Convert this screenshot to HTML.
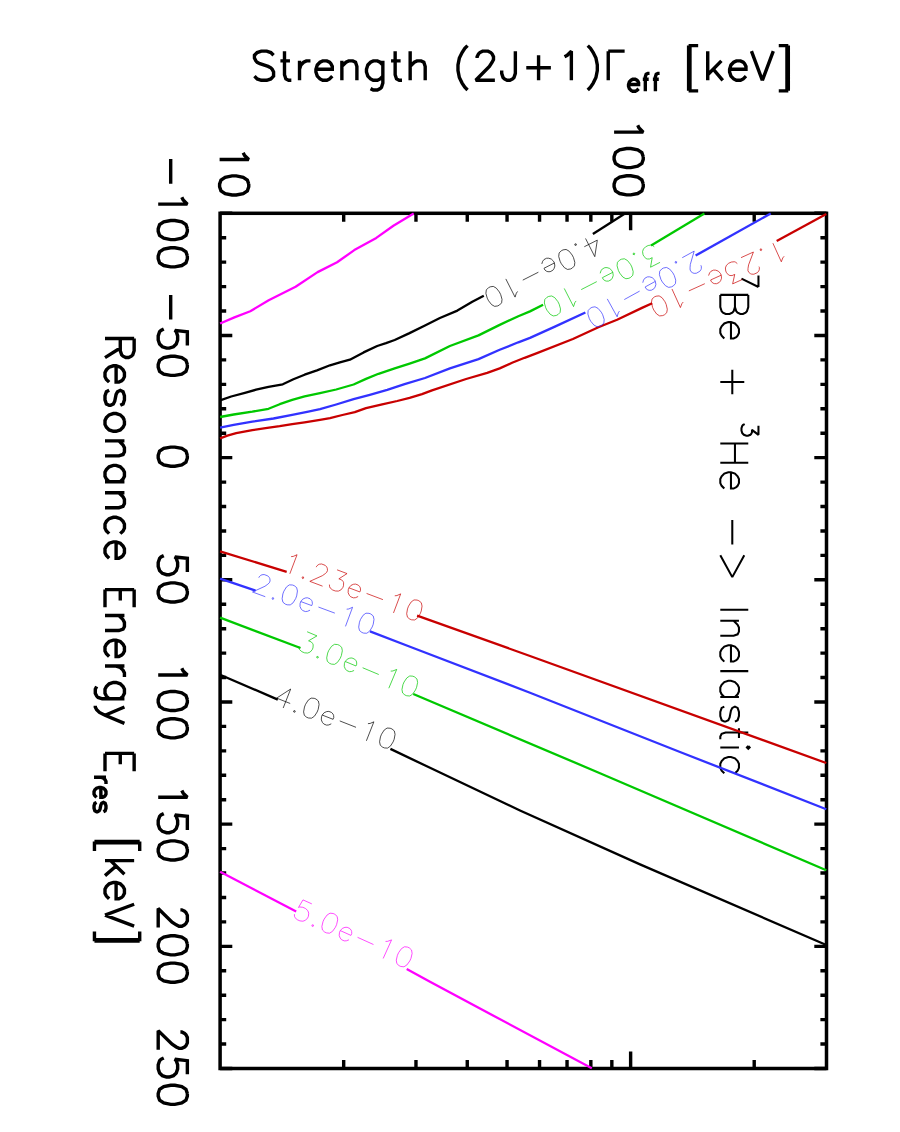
<!DOCTYPE html>
<html><head><meta charset="utf-8"><title>7Be + 3He inelastic contour plot</title>
<style>html,body{margin:0;padding:0;background:#fff;font-family:"Liberation Sans",sans-serif;}svg{display:block}</style>
</head><body>
<svg width="900" height="1132" viewBox="0 0 900 1132">
<rect width="900" height="1132" fill="#fff"/>
<path d="M220.1 213.3 h12.2 M826.5 213.3 h-12.2 M220.1 237.73 h6.1 M826.5 237.73 h-6.1 M220.1 262.17 h6.1 M826.5 262.17 h-6.1 M220.1 286.6 h6.1 M826.5 286.6 h-6.1 M220.1 311.04 h6.1 M826.5 311.04 h-6.1 M220.1 335.47 h12.2 M826.5 335.47 h-12.2 M220.1 359.91 h6.1 M826.5 359.91 h-6.1 M220.1 384.34 h6.1 M826.5 384.34 h-6.1 M220.1 408.77 h6.1 M826.5 408.77 h-6.1 M220.1 433.21 h6.1 M826.5 433.21 h-6.1 M220.1 457.64 h12.2 M826.5 457.64 h-12.2 M220.1 482.08 h6.1 M826.5 482.08 h-6.1 M220.1 506.51 h6.1 M826.5 506.51 h-6.1 M220.1 530.95 h6.1 M826.5 530.95 h-6.1 M220.1 555.38 h6.1 M826.5 555.38 h-6.1 M220.1 579.81 h12.2 M826.5 579.81 h-12.2 M220.1 604.25 h6.1 M826.5 604.25 h-6.1 M220.1 628.68 h6.1 M826.5 628.68 h-6.1 M220.1 653.12 h6.1 M826.5 653.12 h-6.1 M220.1 677.55 h6.1 M826.5 677.55 h-6.1 M220.1 701.99 h12.2 M826.5 701.99 h-12.2 M220.1 726.42 h6.1 M826.5 726.42 h-6.1 M220.1 750.85 h6.1 M826.5 750.85 h-6.1 M220.1 775.29 h6.1 M826.5 775.29 h-6.1 M220.1 799.72 h6.1 M826.5 799.72 h-6.1 M220.1 824.16 h12.2 M826.5 824.16 h-12.2 M220.1 848.59 h6.1 M826.5 848.59 h-6.1 M220.1 873.03 h6.1 M826.5 873.03 h-6.1 M220.1 897.46 h6.1 M826.5 897.46 h-6.1 M220.1 921.89 h6.1 M826.5 921.89 h-6.1 M220.1 946.33 h12.2 M826.5 946.33 h-12.2 M220.1 970.76 h6.1 M826.5 970.76 h-6.1 M220.1 995.2 h6.1 M826.5 995.2 h-6.1 M220.1 1019.63 h6.1 M826.5 1019.63 h-6.1 M220.1 1044.07 h6.1 M826.5 1044.07 h-6.1 M220.1 1068.5 h12.2 M826.5 1068.5 h-12.2 M343.68 213.3 v8.5 M343.68 1068.5 v-8.5 M415.97 213.3 v8.5 M415.97 1068.5 v-8.5 M467.26 213.3 v8.5 M467.26 1068.5 v-8.5 M507.05 213.3 v8.5 M507.05 1068.5 v-8.5 M539.55 213.3 v8.5 M539.55 1068.5 v-8.5 M567.04 213.3 v8.5 M567.04 1068.5 v-8.5 M590.84 213.3 v8.5 M590.84 1068.5 v-8.5 M611.84 213.3 v8.5 M611.84 1068.5 v-8.5 M630.63 213.3 v17 M630.63 1068.5 v-17 M754.21 213.3 v8.5 M754.21 1068.5 v-8.5" stroke="#000" stroke-width="3.4" fill="none"/>
<rect x="220.1" y="213.3" width="606.4" height="855.2" fill="none" stroke="#000" stroke-width="3.5"/>
<path d="M4 -9 L22 -9 M32 -17 L34 -18 L37 -21 L37 0 M55 -21 L52 -20 L50 -17 L49 -12 L49 -9 L50 -4 L52 -1 L55 0 L57 0 L60 -1 L62 -4 L63 -9 L63 -12 L62 -17 L60 -20 L57 -21 L55 -21 M75 -21 L72 -20 L70 -17 L69 -12 L69 -9 L70 -4 L72 -1 L75 0 L77 0 L80 -1 L82 -4 L83 -9 L83 -12 L82 -17 L80 -20 L77 -21 L75 -21" transform="translate(158.2 212.3) rotate(90) scale(1.3650 1.3880) translate(-43 0)" fill="none" stroke="#000" stroke-width="3.4" vector-effect="non-scaling-stroke" stroke-linecap="butt" stroke-linejoin="miter" stroke-miterlimit="2"/>
<path d="M4 -9 L22 -9 M41 -21 L31 -21 L30 -12 L31 -13 L34 -14 L37 -14 L40 -13 L42 -11 L43 -8 L43 -6 L42 -3 L40 -1 L37 0 L34 0 L31 -1 L30 -2 L29 -4 M55 -21 L52 -20 L50 -17 L49 -12 L49 -9 L50 -4 L52 -1 L55 0 L57 0 L60 -1 L62 -4 L63 -9 L63 -12 L62 -17 L60 -20 L57 -21 L55 -21" transform="translate(158.2 334.47) rotate(90) scale(1.3650 1.3880) translate(-33 0)" fill="none" stroke="#000" stroke-width="3.4" vector-effect="non-scaling-stroke" stroke-linecap="butt" stroke-linejoin="miter" stroke-miterlimit="2"/>
<path d="M9 -21 L6 -20 L4 -17 L3 -12 L3 -9 L4 -4 L6 -1 L9 0 L11 0 L14 -1 L16 -4 L17 -9 L17 -12 L16 -17 L14 -20 L11 -21 L9 -21" transform="translate(158.2 456.64) rotate(90) scale(1.3650 1.3880) translate(-10 0)" fill="none" stroke="#000" stroke-width="3.4" vector-effect="non-scaling-stroke" stroke-linecap="butt" stroke-linejoin="miter" stroke-miterlimit="2"/>
<path d="M15 -21 L5 -21 L4 -12 L5 -13 L8 -14 L11 -14 L14 -13 L16 -11 L17 -8 L17 -6 L16 -3 L14 -1 L11 0 L8 0 L5 -1 L4 -2 L3 -4 M29 -21 L26 -20 L24 -17 L23 -12 L23 -9 L24 -4 L26 -1 L29 0 L31 0 L34 -1 L36 -4 L37 -9 L37 -12 L36 -17 L34 -20 L31 -21 L29 -21" transform="translate(158.2 578.81) rotate(90) scale(1.3650 1.3880) translate(-20 0)" fill="none" stroke="#000" stroke-width="3.4" vector-effect="non-scaling-stroke" stroke-linecap="butt" stroke-linejoin="miter" stroke-miterlimit="2"/>
<path d="M6 -17 L8 -18 L11 -21 L11 0 M29 -21 L26 -20 L24 -17 L23 -12 L23 -9 L24 -4 L26 -1 L29 0 L31 0 L34 -1 L36 -4 L37 -9 L37 -12 L36 -17 L34 -20 L31 -21 L29 -21 M49 -21 L46 -20 L44 -17 L43 -12 L43 -9 L44 -4 L46 -1 L49 0 L51 0 L54 -1 L56 -4 L57 -9 L57 -12 L56 -17 L54 -20 L51 -21 L49 -21" transform="translate(158.2 700.99) rotate(90) scale(1.3650 1.3880) translate(-30 0)" fill="none" stroke="#000" stroke-width="3.4" vector-effect="non-scaling-stroke" stroke-linecap="butt" stroke-linejoin="miter" stroke-miterlimit="2"/>
<path d="M6 -17 L8 -18 L11 -21 L11 0 M35 -21 L25 -21 L24 -12 L25 -13 L28 -14 L31 -14 L34 -13 L36 -11 L37 -8 L37 -6 L36 -3 L34 -1 L31 0 L28 0 L25 -1 L24 -2 L23 -4 M49 -21 L46 -20 L44 -17 L43 -12 L43 -9 L44 -4 L46 -1 L49 0 L51 0 L54 -1 L56 -4 L57 -9 L57 -12 L56 -17 L54 -20 L51 -21 L49 -21" transform="translate(158.2 823.16) rotate(90) scale(1.3650 1.3880) translate(-30 0)" fill="none" stroke="#000" stroke-width="3.4" vector-effect="non-scaling-stroke" stroke-linecap="butt" stroke-linejoin="miter" stroke-miterlimit="2"/>
<path d="M4 -16 L4 -17 L5 -19 L6 -20 L8 -21 L12 -21 L14 -20 L15 -19 L16 -17 L16 -15 L15 -13 L13 -10 L3 0 L17 0 M29 -21 L26 -20 L24 -17 L23 -12 L23 -9 L24 -4 L26 -1 L29 0 L31 0 L34 -1 L36 -4 L37 -9 L37 -12 L36 -17 L34 -20 L31 -21 L29 -21 M49 -21 L46 -20 L44 -17 L43 -12 L43 -9 L44 -4 L46 -1 L49 0 L51 0 L54 -1 L56 -4 L57 -9 L57 -12 L56 -17 L54 -20 L51 -21 L49 -21" transform="translate(158.2 945.33) rotate(90) scale(1.3650 1.3880) translate(-30 0)" fill="none" stroke="#000" stroke-width="3.4" vector-effect="non-scaling-stroke" stroke-linecap="butt" stroke-linejoin="miter" stroke-miterlimit="2"/>
<path d="M4 -16 L4 -17 L5 -19 L6 -20 L8 -21 L12 -21 L14 -20 L15 -19 L16 -17 L16 -15 L15 -13 L13 -10 L3 0 L17 0 M35 -21 L25 -21 L24 -12 L25 -13 L28 -14 L31 -14 L34 -13 L36 -11 L37 -8 L37 -6 L36 -3 L34 -1 L31 0 L28 0 L25 -1 L24 -2 L23 -4 M49 -21 L46 -20 L44 -17 L43 -12 L43 -9 L44 -4 L46 -1 L49 0 L51 0 L54 -1 L56 -4 L57 -9 L57 -12 L56 -17 L54 -20 L51 -21 L49 -21" transform="translate(158.2 1067.5) rotate(90) scale(1.3650 1.3880) translate(-30 0)" fill="none" stroke="#000" stroke-width="3.4" vector-effect="non-scaling-stroke" stroke-linecap="butt" stroke-linejoin="miter" stroke-miterlimit="2"/>
<path d="M6 -17 L8 -18 L11 -21 L11 0 M29 -21 L26 -20 L24 -17 L23 -12 L23 -9 L24 -4 L26 -1 L29 0 L31 0 L34 -1 L36 -4 L37 -9 L37 -12 L36 -17 L34 -20 L31 -21 L29 -21" transform="translate(219.6 199.1) rotate(90) scale(1.3650 1.3880) translate(-40 0)" fill="none" stroke="#000" stroke-width="3.4" vector-effect="non-scaling-stroke" stroke-linecap="butt" stroke-linejoin="miter" stroke-miterlimit="2"/>
<path d="M6 -17 L8 -18 L11 -21 L11 0 M29 -21 L26 -20 L24 -17 L23 -12 L23 -9 L24 -4 L26 -1 L29 0 L31 0 L34 -1 L36 -4 L37 -9 L37 -12 L36 -17 L34 -20 L31 -21 L29 -21 M49 -21 L46 -20 L44 -17 L43 -12 L43 -9 L44 -4 L46 -1 L49 0 L51 0 L54 -1 L56 -4 L57 -9 L57 -12 L56 -17 L54 -20 L51 -21 L49 -21" transform="translate(614.1 199) rotate(90) scale(1.3650 1.3880) translate(-60 0)" fill="none" stroke="#000" stroke-width="3.4" vector-effect="non-scaling-stroke" stroke-linecap="butt" stroke-linejoin="miter" stroke-miterlimit="2"/>
<path d="M17 -18 L15 -20 L12 -21 L8 -21 L5 -20 L3 -18 L3 -16 L4 -14 L5 -13 L7 -12 L13 -10 L15 -9 L16 -8 L17 -6 L17 -3 L15 -1 L12 0 L8 0 L5 -1 L3 -3 M25 -21 L25 -4 L26 -1 L28 0 L30 0 M22 -14 L29 -14 M36 -14 L36 0 M36 -8 L37 -11 L39 -13 L41 -14 L44 -14 M48 -8 L60 -8 L60 -10 L59 -12 L58 -13 L56 -14 L53 -14 L51 -13 L49 -11 L48 -8 L48 -6 L49 -3 L51 -1 L53 0 L56 0 L58 -1 L60 -3 M67 -14 L67 0 M67 -10 L70 -13 L72 -14 L75 -14 L77 -13 L78 -10 L78 0 M97 -14 L97 2 L96 5 L95 6 L93 7 L90 7 L88 6 M97 -11 L95 -13 L93 -14 L90 -14 L88 -13 L86 -11 L85 -8 L85 -6 L86 -3 L88 -1 L90 0 L93 0 L95 -1 L97 -3 M106 -21 L106 -4 L107 -1 L109 0 L111 0 M103 -14 L110 -14 M117 -21 L117 0 M117 -10 L120 -13 L122 -14 L125 -14 L127 -13 L128 -10 L128 0 M159 -25 L157 -23 L155 -20 L153 -16 L152 -11 L152 -7 L153 -2 L155 2 L157 5 L159 7 M166 -16 L166 -17 L167 -19 L168 -20 L170 -21 L174 -21 L176 -20 L177 -19 L178 -17 L178 -15 L177 -13 L175 -10 L165 0 L179 0 M194 -21 L194 -5 L193 -2 L192 -1 L190 0 L188 0 L186 -1 L185 -2 L184 -5 L184 -7 M211 -18 L211 0 M202 -9 L220 -9 M230 -17 L232 -18 L235 -21 L235 0 M247 -25 L249 -23 L251 -20 L253 -16 L254 -11 L254 -7 L253 -2 L251 2 L249 5 L247 7 M262 -21 L262 0 M262 -21 L274 -21 M276.85 2.98 L284.23 2.98 L284.23 1.75 L283.61 0.52 L283 -0.09 L281.76 -0.71 L279.92 -0.71 L278.69 -0.09 L277.46 1.14 L276.85 2.98 L276.85 4.21 L277.46 6.06 L278.69 7.29 L279.92 7.9 L281.76 7.9 L283 7.29 L284.23 6.06 M292.22 -5.01 L290.99 -5.01 L289.76 -4.4 L289.14 -2.55 L289.14 7.9 M287.3 -0.71 L291.61 -0.71 M299.6 -5.01 L298.37 -5.01 L297.14 -4.4 L296.52 -2.55 L296.52 7.9 M294.68 -0.71 L298.99 -0.71 M320.83 -25 L320.83 7.6 M321.83 -25 L321.83 7.6 M320.83 -25 L327.83 -25 M320.83 7.6 L327.83 7.6 M334.83 -21 L334.83 0 M344.83 -14 L334.83 -4 M338.83 -8 L345.83 0 M350.83 -8 L362.83 -8 L362.83 -10 L361.83 -12 L360.83 -13 L358.83 -14 L355.83 -14 L353.83 -13 L351.83 -11 L350.83 -8 L350.83 -6 L351.83 -3 L353.83 -1 L355.83 0 L358.83 0 L360.83 -1 L362.83 -3 M366.83 -21 L374.83 0 M382.83 -21 L374.83 0 M392.83 -25 L392.83 7.6 M393.83 -25 L393.83 7.6 M386.83 -25 L393.83 -25 M386.83 7.6 L393.83 7.6" transform="translate(250.35 80.3) rotate(0) scale(1.3660 1.3880) translate(0 0)" fill="none" stroke="#000" stroke-width="3.4" vector-effect="non-scaling-stroke" stroke-linecap="butt" stroke-linejoin="miter" stroke-miterlimit="2"/>
<path d="M4 -21 L4 0 M4 -21 L13 -21 L16 -20 L17 -19 L18 -17 L18 -15 L17 -13 L16 -12 L13 -11 L4 -11 M11 -11 L18 0 M24 -8 L36 -8 L36 -10 L35 -12 L34 -13 L32 -14 L29 -14 L27 -13 L25 -11 L24 -8 L24 -6 L25 -3 L27 -1 L29 0 L32 0 L34 -1 L36 -3 M53 -11 L52 -13 L49 -14 L46 -14 L43 -13 L42 -11 L43 -9 L45 -8 L50 -7 L52 -6 L53 -4 L53 -3 L52 -1 L49 0 L46 0 L43 -1 L42 -3 M64 -14 L62 -13 L60 -11 L59 -8 L59 -6 L60 -3 L62 -1 L64 0 L67 0 L69 -1 L71 -3 L72 -6 L72 -8 L71 -11 L69 -13 L67 -14 L64 -14 M79 -14 L79 0 M79 -10 L82 -13 L84 -14 L87 -14 L89 -13 L90 -10 L90 0 M109 -14 L109 0 M109 -11 L107 -13 L105 -14 L102 -14 L100 -13 L98 -11 L97 -8 L97 -6 L98 -3 L100 -1 L102 0 L105 0 L107 -1 L109 -3 M117 -14 L117 0 M117 -10 L120 -13 L122 -14 L125 -14 L127 -13 L128 -10 L128 0 M147 -11 L145 -13 L143 -14 L140 -14 L138 -13 L136 -11 L135 -8 L135 -6 L136 -3 L138 -1 L140 0 L143 0 L145 -1 L147 -3 M153 -8 L165 -8 L165 -10 L164 -12 L163 -13 L161 -14 L158 -14 L156 -13 L154 -11 L153 -8 L153 -6 L154 -3 L156 -1 L158 0 L161 0 L163 -1 L165 -3 M188 -21 L188 0 M188 -21 L201 -21 M188 -11 L196 -11 M188 0 L201 0 M207 -14 L207 0 M207 -10 L210 -13 L212 -14 L215 -14 L217 -13 L218 -10 L218 0 M225 -8 L237 -8 L237 -10 L236 -12 L235 -13 L233 -14 L230 -14 L228 -13 L226 -11 L225 -8 L225 -6 L226 -3 L228 -1 L230 0 L233 0 L235 -1 L237 -3 M244 -14 L244 0 M244 -8 L245 -11 L247 -13 L249 -14 L252 -14 M268 -14 L268 2 L267 5 L266 6 L264 7 L261 7 L259 6 M268 -11 L266 -13 L264 -14 L261 -14 L259 -13 L257 -11 L256 -8 L256 -6 L257 -3 L259 -1 L261 0 L264 0 L266 -1 L268 -3 M274 -14 L280 0 M286 -14 L280 0 L278 4 L276 6 L274 7 L273 7 M308 -21 L308 0 M308 -21 L321 -21 M308 -11 L316 -11 M308 0 L321 0 M325.46 -0.71 L325.46 7.9 M325.46 2.98 L326.07 1.14 L327.31 -0.09 L328.54 -0.71 L330.38 -0.71 M332.84 2.98 L340.22 2.98 L340.22 1.75 L339.61 0.52 L338.99 -0.09 L337.76 -0.71 L335.92 -0.71 L334.69 -0.09 L333.45 1.14 L332.84 2.98 L332.84 4.21 L333.45 6.06 L334.69 7.29 L335.92 7.9 L337.76 7.9 L338.99 7.29 L340.22 6.06 M350.68 1.14 L350.06 -0.09 L348.21 -0.71 L346.37 -0.71 L344.52 -0.09 L343.91 1.14 L344.52 2.37 L345.75 2.98 L348.83 3.6 L350.06 4.21 L350.68 5.44 L350.68 6.06 L350.06 7.29 L348.21 7.9 L346.37 7.9 L344.52 7.29 L343.91 6.06 M372.52 -25 L372.52 7.6 M373.52 -25 L373.52 7.6 M372.52 -25 L379.52 -25 M372.52 7.6 L379.52 7.6 M386.52 -21 L386.52 0 M396.52 -14 L386.52 -4 M390.52 -8 L397.52 0 M402.52 -8 L414.52 -8 L414.52 -10 L413.52 -12 L412.52 -13 L410.52 -14 L407.52 -14 L405.52 -13 L403.52 -11 L402.52 -8 L402.52 -6 L403.52 -3 L405.52 -1 L407.52 0 L410.52 0 L412.52 -1 L414.52 -3 M418.52 -21 L426.52 0 M434.52 -21 L426.52 0 M444.52 -25 L444.52 7.6 M445.52 -25 L445.52 7.6 M438.52 -25 L445.52 -25 M438.52 7.6 L445.52 7.6" transform="translate(105 333) rotate(90) scale(1.3650 1.3880) translate(0 0)" fill="none" stroke="#000" stroke-width="3.4" vector-effect="non-scaling-stroke" stroke-linecap="butt" stroke-linejoin="miter" stroke-miterlimit="2"/>
<path d="M10.32 -28.65 L4.25 -15.9 M1.82 -28.65 L10.32 -28.65 M16.14 -21 L16.14 0 M16.14 -21 L25.14 -21 L28.14 -20 L29.14 -19 L30.14 -17 L30.14 -15 L29.14 -13 L28.14 -12 L25.14 -11 M16.14 -11 L25.14 -11 L28.14 -10 L29.14 -9 L30.14 -7 L30.14 -4 L29.14 -2 L28.14 -1 L25.14 0 L16.14 0 M36.14 -8 L48.14 -8 L48.14 -10 L47.14 -12 L46.14 -13 L44.14 -14 L41.14 -14 L39.14 -13 L37.14 -11 L36.14 -8 L36.14 -6 L37.14 -3 L39.14 -1 L41.14 0 L44.14 0 L46.14 -1 L48.14 -3 M80.14 -18 L80.14 0 M71.14 -9 L89.14 -9 M112.17 -28.65 L118.85 -28.65 L115.21 -23.79 L117.03 -23.79 L118.25 -23.18 L118.85 -22.58 L119.46 -20.76 L119.46 -19.54 L118.85 -17.72 L117.64 -16.51 L115.82 -15.9 L114 -15.9 L112.17 -16.51 L111.57 -17.11 L110.96 -18.33 M125.28 -21 L125.28 0 M139.28 -21 L139.28 0 M125.28 -11 L139.28 -11 M146.28 -8 L158.28 -8 L158.28 -10 L157.28 -12 L156.28 -13 L154.28 -14 L151.28 -14 L149.28 -13 L147.28 -11 L146.28 -8 L146.28 -6 L147.28 -3 L149.28 -1 L151.28 0 L154.28 0 L156.28 -1 L158.28 -3 M181.28 -9 L199.28 -9 M207.28 -18 L223.28 -9 L207.28 0 M247.28 -21 L247.28 0 M255.28 -14 L255.28 0 M255.28 -10 L258.28 -13 L260.28 -14 L263.28 -14 L265.28 -13 L266.28 -10 L266.28 0 M273.28 -8 L285.28 -8 L285.28 -10 L284.28 -12 L283.28 -13 L281.28 -14 L278.28 -14 L276.28 -13 L274.28 -11 L273.28 -8 L273.28 -6 L274.28 -3 L276.28 -1 L278.28 0 L281.28 0 L283.28 -1 L285.28 -3 M292.28 -21 L292.28 0 M311.28 -14 L311.28 0 M311.28 -11 L309.28 -13 L307.28 -14 L304.28 -14 L302.28 -13 L300.28 -11 L299.28 -8 L299.28 -6 L300.28 -3 L302.28 -1 L304.28 0 L307.28 0 L309.28 -1 L311.28 -3 M329.28 -11 L328.28 -13 L325.28 -14 L322.28 -14 L319.28 -13 L318.28 -11 L319.28 -9 L321.28 -8 L326.28 -7 L328.28 -6 L329.28 -4 L329.28 -3 L328.28 -1 L325.28 0 L322.28 0 L319.28 -1 L318.28 -3 M337.28 -21 L337.28 -4 L338.28 -1 L340.28 0 L342.28 0 M334.28 -14 L341.28 -14 M347.28 -21 L348.28 -20 L349.28 -21 L348.28 -22 L347.28 -21 M348.28 -14 L348.28 0 M367.28 -11 L365.28 -13 L363.28 -14 L360.28 -14 L358.28 -13 L356.28 -11 L355.28 -8 L355.28 -6 L356.28 -3 L358.28 -1 L360.28 0 L363.28 0 L365.28 -1 L367.28 -3" transform="translate(720.3 272.9) rotate(90) scale(1.3625 1.3320) translate(0 0)" fill="none" stroke="#000" stroke-width="2.05" vector-effect="non-scaling-stroke" stroke-linecap="butt" stroke-linejoin="miter" stroke-miterlimit="2"/>
<polyline points="220.1,323.5 234.4,317.4 250.3,311.2 268.7,300.2 295.6,286.8 317.6,272.1 337.1,262.3 354.3,250.1 376.3,237.9 393.4,225.7 413.7,213.4" fill="none" stroke="#ff00ff" stroke-width="2.3" stroke-linejoin="round"/>
<polyline points="220.1,400.4 231.2,396.5 244.9,392.8 256.1,389.7 268.5,386.8 282.8,384.3 293.4,379.3 304.6,374.7 317,370.4 330,365.3 339.9,362.4 349.9,359.7 363.6,352.4 377.2,346 386,343.1 394.7,340 409,333.4 425,325.5 439.9,318 457.4,310.6 472.3,301.8 483.8,295.8" fill="none" stroke="#000" stroke-width="2.3" stroke-linejoin="round"/>
<polyline points="592.9,234 625,213.5" fill="none" stroke="#000" stroke-width="2.3" stroke-linejoin="round"/>
<polyline points="220.1,417 233.7,414.5 252.3,411.7 268.5,408.8 279.7,404.2 292.2,399.9 304.6,396.4 320,393.2 336.2,389.5 353.6,384.5 366,378.9 378.5,373.8 394.7,368.4 409.6,363.6 425,358.4 449.9,346 478.5,335.4 499.7,324.9 518.3,316.2 530,311.4 543.1,304.8" fill="none" stroke="#00c800" stroke-width="2.3" stroke-linejoin="round"/>
<polyline points="651.1,245.6 704.4,213.5" fill="none" stroke="#00c800" stroke-width="2.3" stroke-linejoin="round"/>
<polyline points="220.1,427.6 233.7,424.8 252.3,421.6 273.5,418.5 292.2,414.8 308.3,411.7 320,409.2 336.2,404.5 353.6,399.1 369.8,394.8 387.2,389.8 404.6,384.2 425,378 449.9,368.4 478.5,359.1 499.7,349.8 518.3,342.3 530,337.9 554.9,326.6 585.4,312.5" fill="none" stroke="#3232ff" stroke-width="2.3" stroke-linejoin="round"/>
<polyline points="695.6,255.6 770.7,213.5" fill="none" stroke="#3232ff" stroke-width="2.3" stroke-linejoin="round"/>
<polyline points="220.1,438.3 227.4,435.7 236.2,433.2 252.3,430.1 267.3,427.9 279.7,426.2 292.2,424.1 304.6,422.3 320,419.8 330,418.1 342.4,415 354.8,412.2 366,408.2 382.2,404.3 397.2,401 409.6,397.9 422,394.1 432,390.4 466.1,379 487.2,372.8 499.7,368.4 512.1,362.8 524.6,357.8 537,353.2 572.9,339 598.4,327.2 617.1,319.7 642,307.9 652.2,303.3" fill="none" stroke="#c80000" stroke-width="2.3" stroke-linejoin="round"/>
<polyline points="776.7,241.1 826.3,214" fill="none" stroke="#c80000" stroke-width="2.3" stroke-linejoin="round"/>
<polyline points="220.1,551.4 286.7,571.8" fill="none" stroke="#c80000" stroke-width="2.3" stroke-linejoin="round"/>
<polyline points="417.1,615.6 530,656 826.3,763" fill="none" stroke="#c80000" stroke-width="2.3" stroke-linejoin="round"/>
<polyline points="220.1,578.7 255.6,590.7" fill="none" stroke="#3232ff" stroke-width="2.3" stroke-linejoin="round"/>
<polyline points="370,631.4 410,646.7 530,692.7 680,752 826.3,809.2" fill="none" stroke="#3232ff" stroke-width="2.3" stroke-linejoin="round"/>
<polyline points="220.1,617.6 300.5,648" fill="none" stroke="#00c800" stroke-width="2.3" stroke-linejoin="round"/>
<polyline points="413.3,694 600,773.2 826.3,870.3" fill="none" stroke="#00c800" stroke-width="2.3" stroke-linejoin="round"/>
<polyline points="220.1,674.7 277.8,699.6" fill="none" stroke="#000" stroke-width="2.3" stroke-linejoin="round"/>
<polyline points="390.4,748.9 430,767.8 520,810.5 640,864.4 826.3,945" fill="none" stroke="#000" stroke-width="2.3" stroke-linejoin="round"/>
<polyline points="220.1,871.7 296.2,911.6" fill="none" stroke="#ff00ff" stroke-width="2.3" stroke-linejoin="round"/>
<polyline points="406.7,968.9 430,981.8 591.8,1068.3" fill="none" stroke="#ff00ff" stroke-width="2.3" stroke-linejoin="round"/>
<path d="M13 -21 L3 -7 L18 -7 M13 -21 L13 0 M25 -2 L24 -1 L25 0 L26 -1 L25 -2 M39 -21 L36 -20 L34 -17 L33 -12 L33 -9 L34 -4 L36 -1 L39 0 L41 0 L44 -1 L46 -4 L47 -9 L47 -12 L46 -17 L44 -20 L41 -21 L39 -21 M53 -8 L65 -8 L65 -10 L64 -12 L63 -13 L61 -14 L58 -14 L56 -13 L54 -11 L53 -8 L53 -6 L54 -3 L56 -1 L58 0 L61 0 L63 -1 L65 -3 M72 -9 L90 -9 M100 -17 L102 -18 L105 -21 L105 0 M123 -21 L120 -20 L118 -17 L117 -12 L117 -9 L118 -4 L120 -1 L123 0 L125 0 L128 -1 L130 -4 L131 -9 L131 -12 L130 -17 L128 -20 L125 -21 L123 -21" transform="translate(596.83 232.74) rotate(153.1) scale(0.9720 0.9720) translate(0 0)" fill="none" stroke="#000" stroke-width="0.7" vector-effect="non-scaling-stroke" stroke-linecap="butt" stroke-linejoin="round" stroke-miterlimit="2"/>
<path d="M5 -21 L16 -21 L10 -13 L13 -13 L15 -12 L16 -11 L17 -8 L17 -6 L16 -3 L14 -1 L11 0 L8 0 L5 -1 L4 -2 L3 -4 M25 -2 L24 -1 L25 0 L26 -1 L25 -2 M39 -21 L36 -20 L34 -17 L33 -12 L33 -9 L34 -4 L36 -1 L39 0 L41 0 L44 -1 L46 -4 L47 -9 L47 -12 L46 -17 L44 -20 L41 -21 L39 -21 M53 -8 L65 -8 L65 -10 L64 -12 L63 -13 L61 -14 L58 -14 L56 -13 L54 -11 L53 -8 L53 -6 L54 -3 L56 -1 L58 0 L61 0 L63 -1 L65 -3 M72 -9 L90 -9 M100 -17 L102 -18 L105 -21 L105 0 M123 -21 L120 -20 L118 -17 L117 -12 L117 -9 L118 -4 L120 -1 L123 0 L125 0 L128 -1 L130 -4 L131 -9 L131 -12 L130 -17 L128 -20 L125 -21 L123 -21" transform="translate(655.09 241.96) rotate(152.9) scale(0.9720 0.9720) translate(0 0)" fill="none" stroke="#00c800" stroke-width="0.7" vector-effect="non-scaling-stroke" stroke-linecap="butt" stroke-linejoin="round" stroke-miterlimit="2"/>
<path d="M4 -16 L4 -17 L5 -19 L6 -20 L8 -21 L12 -21 L14 -20 L15 -19 L16 -17 L16 -15 L15 -13 L13 -10 L3 0 L17 0 M25 -2 L24 -1 L25 0 L26 -1 L25 -2 M39 -21 L36 -20 L34 -17 L33 -12 L33 -9 L34 -4 L36 -1 L39 0 L41 0 L44 -1 L46 -4 L47 -9 L47 -12 L46 -17 L44 -20 L41 -21 L39 -21 M53 -8 L65 -8 L65 -10 L64 -12 L63 -13 L61 -14 L58 -14 L56 -13 L54 -11 L53 -8 L53 -6 L54 -3 L56 -1 L58 0 L61 0 L63 -1 L65 -3 M72 -9 L90 -9 M100 -17 L102 -18 L105 -21 L105 0 M123 -21 L120 -20 L118 -17 L117 -12 L117 -9 L118 -4 L120 -1 L123 0 L125 0 L128 -1 L130 -4 L131 -9 L131 -12 L130 -17 L128 -20 L125 -21 L123 -21" transform="translate(696.73 249.74) rotate(151.2) scale(0.9720 0.9720) translate(0 0)" fill="none" stroke="#3232ff" stroke-width="0.7" vector-effect="non-scaling-stroke" stroke-linecap="butt" stroke-linejoin="round" stroke-miterlimit="2"/>
<path d="M6 -17 L8 -18 L11 -21 L11 0 M25 -2 L24 -1 L25 0 L26 -1 L25 -2 M34 -16 L34 -17 L35 -19 L36 -20 L38 -21 L42 -21 L44 -20 L45 -19 L46 -17 L46 -15 L45 -13 L43 -10 L33 0 L47 0 M55 -21 L66 -21 L60 -13 L63 -13 L65 -12 L66 -11 L67 -8 L67 -6 L66 -3 L64 -1 L61 0 L58 0 L55 -1 L54 -2 L53 -4 M73 -8 L85 -8 L85 -10 L84 -12 L83 -13 L81 -14 L78 -14 L76 -13 L74 -11 L73 -8 L73 -6 L74 -3 L76 -1 L78 0 L81 0 L83 -1 L85 -3 M92 -9 L110 -9 M120 -17 L122 -18 L125 -21 L125 0 M143 -21 L140 -20 L138 -17 L137 -12 L137 -9 L138 -4 L140 -1 L143 0 L145 0 L148 -1 L150 -4 L151 -9 L151 -12 L150 -17 L148 -20 L145 -21 L143 -21" transform="translate(782.63 238.78) rotate(155.6) scale(0.9720 0.9720) translate(0 0)" fill="none" stroke="#c80000" stroke-width="0.7" vector-effect="non-scaling-stroke" stroke-linecap="butt" stroke-linejoin="round" stroke-miterlimit="2"/>
<path d="M6 -17 L8 -18 L11 -21 L11 0 M25 -2 L24 -1 L25 0 L26 -1 L25 -2 M34 -16 L34 -17 L35 -19 L36 -20 L38 -21 L42 -21 L44 -20 L45 -19 L46 -17 L46 -15 L45 -13 L43 -10 L33 0 L47 0 M55 -21 L66 -21 L60 -13 L63 -13 L65 -12 L66 -11 L67 -8 L67 -6 L66 -3 L64 -1 L61 0 L58 0 L55 -1 L54 -2 L53 -4 M73 -8 L85 -8 L85 -10 L84 -12 L83 -13 L81 -14 L78 -14 L76 -13 L74 -11 L73 -8 L73 -6 L74 -3 L76 -1 L78 0 L81 0 L83 -1 L85 -3 M92 -9 L110 -9 M120 -17 L122 -18 L125 -21 L125 0 M143 -21 L140 -20 L138 -17 L137 -12 L137 -9 L138 -4 L140 -1 L143 0 L145 0 L148 -1 L150 -4 L151 -9 L151 -12 L150 -17 L148 -20 L145 -21 L143 -21" transform="translate(279.83 570.02) rotate(20.7) scale(0.9720 0.9720) translate(0 0)" fill="none" stroke="#c80000" stroke-width="0.7" vector-effect="non-scaling-stroke" stroke-linecap="butt" stroke-linejoin="round" stroke-miterlimit="2"/>
<path d="M4 -16 L4 -17 L5 -19 L6 -20 L8 -21 L12 -21 L14 -20 L15 -19 L16 -17 L16 -15 L15 -13 L13 -10 L3 0 L17 0 M25 -2 L24 -1 L25 0 L26 -1 L25 -2 M39 -21 L36 -20 L34 -17 L33 -12 L33 -9 L34 -4 L36 -1 L39 0 L41 0 L44 -1 L46 -4 L47 -9 L47 -12 L46 -17 L44 -20 L41 -21 L39 -21 M53 -8 L65 -8 L65 -10 L64 -12 L63 -13 L61 -14 L58 -14 L56 -13 L54 -11 L53 -8 L53 -6 L54 -3 L56 -1 L58 0 L61 0 L63 -1 L65 -3 M72 -9 L90 -9 M100 -17 L102 -18 L105 -21 L105 0 M123 -21 L120 -20 L118 -17 L117 -12 L117 -9 L118 -4 L120 -1 L123 0 L125 0 L128 -1 L130 -4 L131 -9 L131 -12 L130 -17 L128 -20 L125 -21 L123 -21" transform="translate(249.77 590.98) rotate(20.3) scale(0.9720 0.9720) translate(0 0)" fill="none" stroke="#3232ff" stroke-width="0.7" vector-effect="non-scaling-stroke" stroke-linecap="butt" stroke-linejoin="round" stroke-miterlimit="2"/>
<path d="M5 -21 L16 -21 L10 -13 L13 -13 L15 -12 L16 -11 L17 -8 L17 -6 L16 -3 L14 -1 L11 0 L8 0 L5 -1 L4 -2 L3 -4 M25 -2 L24 -1 L25 0 L26 -1 L25 -2 M39 -21 L36 -20 L34 -17 L33 -12 L33 -9 L34 -4 L36 -1 L39 0 L41 0 L44 -1 L46 -4 L47 -9 L47 -12 L46 -17 L44 -20 L41 -21 L39 -21 M53 -8 L65 -8 L65 -10 L64 -12 L63 -13 L61 -14 L58 -14 L56 -13 L54 -11 L53 -8 L53 -6 L54 -3 L56 -1 L58 0 L61 0 L63 -1 L65 -3 M72 -9 L90 -9 M100 -17 L102 -18 L105 -21 L105 0 M123 -21 L120 -20 L118 -17 L117 -12 L117 -9 L118 -4 L120 -1 L123 0 L125 0 L128 -1 L130 -4 L131 -9 L131 -12 L130 -17 L128 -20 L125 -21 L123 -21" transform="translate(294.72 648.68) rotate(22.8) scale(0.9720 0.9720) translate(0 0)" fill="none" stroke="#00c800" stroke-width="0.7" vector-effect="non-scaling-stroke" stroke-linecap="butt" stroke-linejoin="round" stroke-miterlimit="2"/>
<path d="M13 -21 L3 -7 L18 -7 M13 -21 L13 0 M25 -2 L24 -1 L25 0 L26 -1 L25 -2 M39 -21 L36 -20 L34 -17 L33 -12 L33 -9 L34 -4 L36 -1 L39 0 L41 0 L44 -1 L46 -4 L47 -9 L47 -12 L46 -17 L44 -20 L41 -21 L39 -21 M53 -8 L65 -8 L65 -10 L64 -12 L63 -13 L61 -14 L58 -14 L56 -13 L54 -11 L53 -8 L53 -6 L54 -3 L56 -1 L58 0 L61 0 L63 -1 L65 -3 M72 -9 L90 -9 M100 -17 L102 -18 L105 -21 L105 0 M123 -21 L120 -20 L118 -17 L117 -12 L117 -9 L118 -4 L120 -1 L123 0 L125 0 L128 -1 L130 -4 L131 -9 L131 -12 L130 -17 L128 -20 L125 -21 L123 -21" transform="translate(271.43 703.4) rotate(21.5) scale(0.9720 0.9720) translate(0 0)" fill="none" stroke="#000" stroke-width="0.7" vector-effect="non-scaling-stroke" stroke-linecap="butt" stroke-linejoin="round" stroke-miterlimit="2"/>
<path d="M15 -21 L5 -21 L4 -12 L5 -13 L8 -14 L11 -14 L14 -13 L16 -11 L17 -8 L17 -6 L16 -3 L14 -1 L11 0 L8 0 L5 -1 L4 -2 L3 -4 M25 -2 L24 -1 L25 0 L26 -1 L25 -2 M39 -21 L36 -20 L34 -17 L33 -12 L33 -9 L34 -4 L36 -1 L39 0 L41 0 L44 -1 L46 -4 L47 -9 L47 -12 L46 -17 L44 -20 L41 -21 L39 -21 M53 -8 L65 -8 L65 -10 L64 -12 L63 -13 L61 -14 L58 -14 L56 -13 L54 -11 L53 -8 L53 -6 L54 -3 L56 -1 L58 0 L61 0 L63 -1 L65 -3 M72 -9 L90 -9 M100 -17 L102 -18 L105 -21 L105 0 M123 -21 L120 -20 L118 -17 L117 -12 L117 -9 L118 -4 L120 -1 L123 0 L125 0 L128 -1 L130 -4 L131 -9 L131 -12 L130 -17 L128 -20 L125 -21 L123 -21" transform="translate(290.15 916.49) rotate(24.3) scale(0.9720 0.9720) translate(0 0)" fill="none" stroke="#ff00ff" stroke-width="0.7" vector-effect="non-scaling-stroke" stroke-linecap="butt" stroke-linejoin="round" stroke-miterlimit="2"/>
</svg>
</body></html>
